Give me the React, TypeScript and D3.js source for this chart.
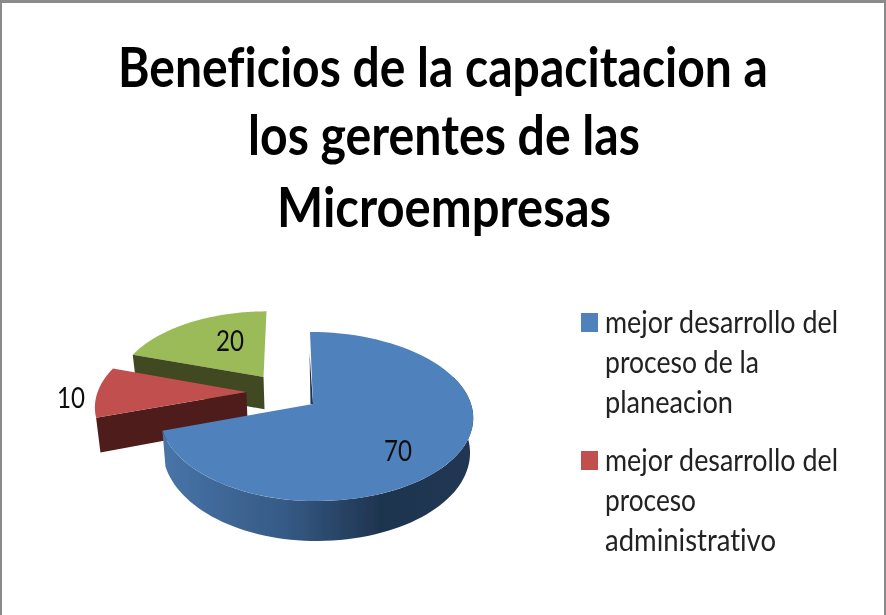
import React from "react";
import * as d3 from "d3";

const titleLines = ["Beneficios de la capacitacion a", "los gerentes de las", "Microempresas"];
const sliceValues = [70, 10, 20];
const sliceLabels = ["70", "10", "20"];
const legendEntries = [
  ["mejor desarrollo del", "proceso de la", "planeacion"],
  ["mejor desarrollo del", "proceso", "administrativo"],
];
const legendWidths = [
  [233, 154, 128],
  [233, 91, 171],
];
const topColors = ["#4f81bd", "#c0504d", "#9bbb59"];
const wallColors = ["#1f3550", "#4f1c1a", "#3f4a20"];
// Explosion of each slice on the pie's ground plane, in radii (right, away).
const explodeU = [0, -0.445, -0.335];
const explodeV = [0, 0.148, 0.343];

const W = 886, H = 615;
const cx = 313, cy = 404, Rleft = 152, Rright = 158, Ry = 82.7, K = 0.148, DEPTH = 34, LEAN = 3;

type P = [number, number];
const project = (u: number, v: number, low = 0): P => {
  const s = 1 / (1 + K * v);
  const x = cx + (u < 0 ? Rleft : Rright) * u * s - LEAN * v;
  const y = cy - Ry * v * s;
  return [cx + (x - cx) * (1 - 0.02 * low), y + DEPTH * s * low];
};
const rim = (i: number, a: number, low = 0): P =>
  project(explodeU[i] + Math.sin(a), explodeV[i] + Math.cos(a), low);
const apex = (i: number, low = 0): P => project(explodeU[i], explodeV[i], low);
const lineGen = d3.line<P>().curve(d3.curveLinear);
const closed = (pts: P[]) => lineGen(pts) + "Z";
const sweep = (a0: number, a1: number, n = 80) =>
  d3.range(n + 1).map((k) => a0 + ((a1 - a0) * k) / n);

const arcs = d3.pie<number>().sort(null)(sliceValues);
const rad = (deg: number) => (deg * Math.PI) / 180;

const sideX = d3.scaleLinear().domain([0, 1]).range([163, 472]);
const sideStops: [number, string][] = [
  [0, "#4874a8"],
  [0.4, "#355a85"],
  [0.7, "#1f3450"],
  [1, "#203652"],
];

export default function App() {
  const blue = arcs[0], red = arcs[1], green = arcs[2];
  const blueTop = closed([apex(0), ...sweep(blue.startAngle, blue.endAngle).map((a) => rim(0, a))]);
  const visible = sweep(rad(70), blue.endAngle);
  const blueWall = closed([
    ...visible.map((a) => rim(0, a)),
    ...visible.slice().reverse().map((a) => rim(0, a, 1)),
  ]);
  const edgeTop = rim(0, blue.startAngle);
  const sliver = closed([apex(0), [edgeTop[0] - 0.5, edgeTop[1] + 20], [apex(0)[0] - 2.5, apex(0)[1]]]);
  const face = (i: number, a: number) => closed([rim(i, a), apex(i), apex(i, 1), rim(i, a, 1)]);
  const top = (i: number, d: d3.PieArcDatum<number>) =>
    closed([apex(i), ...sweep(d.startAngle, d.endAngle).map((a) => rim(i, a))]);

  const labelPos: P[] = [[398, 451], [71, 398], [230, 341]];
  const font = "Lato, 'Noto Sans', sans-serif";

  return (
    <svg width={W} height={H} style={{ position: "absolute", left: 0, top: 0, background: "#fff", fontVariantLigatures: "none" }}>
      <defs>
        <linearGradient id="side" gradientUnits="userSpaceOnUse" x1={sideX(0)} x2={sideX(1)} y1={0} y2={0}>
          {sideStops.map(([o, c]) => <stop key={o} offset={o} stopColor={c} />)}
        </linearGradient>
        <filter id="soft" x="-5%" y="-5%" width="110%" height="110%">
          <feGaussianBlur stdDeviation="0.6" />
        </filter>
      </defs>
      <path d={`M1,${H}V1.5H${W - 1}V${H}`} fill="none" stroke="#8a8a8a" strokeWidth={2} />
      <rect x={0} y={0} width={W} height={3} fill="#8a8a8a" />

      <g filter="url(#soft)">
        <g fontFamily={font} fontWeight={700} fontSize={55} fill="#000" textAnchor="middle">
          {titleLines.map((t, i) => (
            <text key={t} x={[443, 444, 444][i]} y={[87, 155, 227][i]}
              textLength={[650, 392, 334][i]} lengthAdjust="spacingAndGlyphs">{t}</text>
          ))}
        </g>

        <path d={top(2, green)} fill={topColors[2]} />
        <path d={face(2, green.startAngle)} fill={wallColors[2]} />
        <path d={face(1, red.startAngle)} fill={wallColors[1]} />
        <path d={top(1, red)} fill={topColors[1]} />
        <path d={blueWall} fill="url(#side)" />
        <path d={sliver} fill={wallColors[0]} />
        <path d={blueTop} fill={topColors[0]} />

        <g fontFamily={font} fontSize={29} fill="#111" textAnchor="middle">
          {sliceLabels.map((t, i) => (
            <text key={t} x={labelPos[i][0]} y={labelPos[i][1]} dy="0.36em"
              textLength={28} lengthAdjust="spacingAndGlyphs">{t}</text>
          ))}
        </g>

        {legendEntries.map((lines, i) => (
          <g key={i}>
            <rect x={581} y={[313, 451][i]} width={17} height={19} fill={topColors[i]} />
            {lines.map((l, j) => (
              <text key={j} x={605} y={[333, 471][i] + j * 40} fontFamily={font} fontSize={30} fill="#222"
                textLength={legendWidths[i][j]} lengthAdjust="spacingAndGlyphs">{l}</text>
            ))}
          </g>
        ))}
      </g>
    </svg>
  );
}
